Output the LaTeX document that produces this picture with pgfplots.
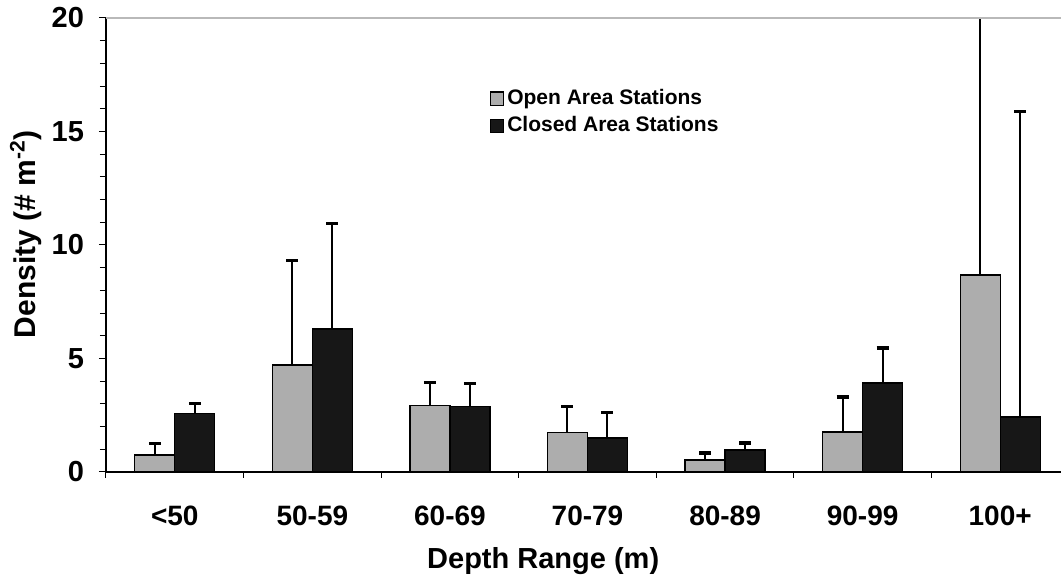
\documentclass[border=0pt]{standalone}
\usepackage{fontspec}
\setmainfont{Liberation Sans}
\usepackage{pgfplots}
\pgfplotsset{compat=1.18}
\usepackage{pgfplotstable}

\definecolor{openfill}{gray}{0.68}
\definecolor{closedfill}{gray}{0.09}

% density per depth range: mean and upper error (+1 SE)
\pgfplotstableread{
x open openerr closed closederr
0 0.75 0.49 2.57 0.43
1 4.71 4.59 6.30 4.63
2 2.92 1.02 2.88 1.01
3 1.73 1.15 1.50 1.11
4 0.53 0.31 0.97 0.31
5 1.76 1.54 3.92 1.54
6 8.67 12.80 2.43 13.45
}\depthdata

\begin{document}
\begin{tikzpicture}
\begin{axis}[
  at={(0,0)}, anchor=south west,
  scale only axis,
  width=481.5pt, height=227pt,
  xmin=-0.5, xmax=6.5, ymin=0, ymax=20,
  axis x line*=bottom, axis y line*=left,
  axis line style={line width=0.6pt, black},
  ybar=0pt, bar width=20pt,
  xtick={0,...,6},
  xticklabels={<50,50-59,60-69,70-79,80-89,90-99,100+},
  minor xtick={-0.5,0.5,...,6.5},
  major x tick style={draw=none},
  ytick={0,5,10,15,20}, minor y tick num=4,
  tick align=outside,
  major tick length=3.5pt, minor tick length=3pt,
  tick style={black, line width=0.5pt},
  /pgf/number format/assume math mode=true,
  tick label style={font=\fontsize{14}{17}\selectfont\bfseries},
  yticklabel style={font=\fontsize{14.5}{17}\selectfont\bfseries, xshift=-4pt},
  xticklabel style={yshift=-10pt},
  xlabel={Depth Range (m)},
  ylabel={Density (\# m\textsuperscript{-2})},
  every axis x label/.style={at={(axis description cs:0.454,0)}, anchor=north, yshift=-34pt,
    font=\fontsize{14.5}{17}\selectfont\bfseries},
  every axis y label/.style={at={(axis description cs:-0.107,0.524)}, rotate=90, anchor=north,
    font=\fontsize{15}{18}\selectfont\bfseries},
  legend style={at={(0.398,0.85)}, anchor=north west, draw=none, fill=none,
    font=\fontsize{10.5}{12}\selectfont\bfseries, row sep=1.5pt, inner sep=0pt,
    nodes={inner sep=1.5pt}},
  legend cell align=left,
  error bars/error bar style={line width=1pt, black},
  error bars/error mark options={rotate=90, mark size=3pt, line width=1.6pt, black},
]
\addplot[fill=openfill, draw=black, line width=0.7pt,
  error bars/.cd, y dir=plus, y explicit,
  /pgfplots/legend image code/.code={\draw[fill=openfill, draw=black, line width=0.7pt] (0pt,-3.3pt) rectangle (6.6pt,3.3pt);}]
  table[x=x, y=open, y error=openerr] {\depthdata};
\addplot[fill=closedfill, draw=black, line width=0.7pt,
  error bars/.cd, y dir=plus, y explicit,
  /pgfplots/legend image code/.code={\draw[fill=closedfill, draw=black, line width=0.7pt] (0pt,-3.3pt) rectangle (6.6pt,3.3pt);}]
  table[x=x, y=closed, y error=closederr] {\depthdata};
\legend{Open Area Stations, Closed Area Stations}
\draw[gray!55, line width=0.6pt] (rel axis cs:0,1) -- (rel axis cs:1,1);
\end{axis}
\pgfresetboundingbox
\path[use as bounding box] (-53pt,-52.5pt) rectangle (477.5pt,236pt);
\end{tikzpicture}
\end{document}
